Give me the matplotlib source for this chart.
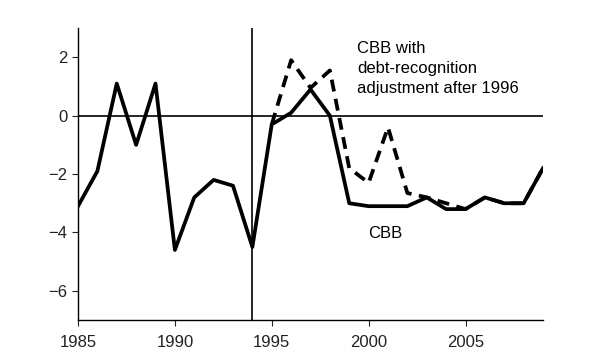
import matplotlib
matplotlib.use('Agg')
import matplotlib.pyplot as plt

plt.rcParams['font.family'] = ['Liberation Sans', 'DejaVu Sans']

years = list(range(1985, 2010))
cbb = [-3.1, -1.9, 1.1, -1.0, 1.1, -4.6, -2.8, -2.2, -2.4, -4.5,
       -0.3, 0.1, 0.9, 0.0, -3.0, -3.1, -3.1, -3.1, -2.8, -3.2,
       -3.2, -2.8, -3.0, -3.0, -1.8]

adj_years = list(range(1995, 2010))
cbb_adj = [-0.3, 1.9, 0.95, 1.55, -1.8, -2.3, -0.4, -2.65, -2.8, -3.0,
           -3.2, -2.8, -3.0, -3.0, -1.8]

fig = plt.figure(figsize=(6, 3.6), dpi=100)
ax = fig.add_axes([0.13, 0.111, 0.775, 0.811])

ax.axhline(0, color='black', lw=1.2, zorder=1)
ax.axvline(1994, color='black', lw=1.2, zorder=1)

ax.plot(adj_years, cbb_adj, color='black', lw=2.7, ls=(0, (3.2, 2.0)), zorder=2)
ax.plot(years, cbb, color='black', lw=2.7, zorder=3)

ax.set_xlim(1985, 2009)
ax.set_ylim(-7, 3)
ax.set_xticks([1985, 1990, 1995, 2000, 2005])
ax.set_yticks([-6, -4, -2, 0, 2])

for s in ['top', 'right']:
    ax.spines[s].set_visible(False)
for s in ['left', 'bottom']:
    ax.spines[s].set_linewidth(1.0)
ax.tick_params(labelsize=12, colors='#222222', length=4, width=0.8)
ax.tick_params(axis='x', pad=7)

ax.text(1999.4, 2.55, 'CBB with\ndebt-recognition\nadjustment after 1996',
        fontsize=12, va='top', ha='left', linespacing=1.42)
ax.text(1999.95, -4.03, 'CBB', fontsize=12, va='center', ha='left')

fig.savefig('out.png', dpi=100)
